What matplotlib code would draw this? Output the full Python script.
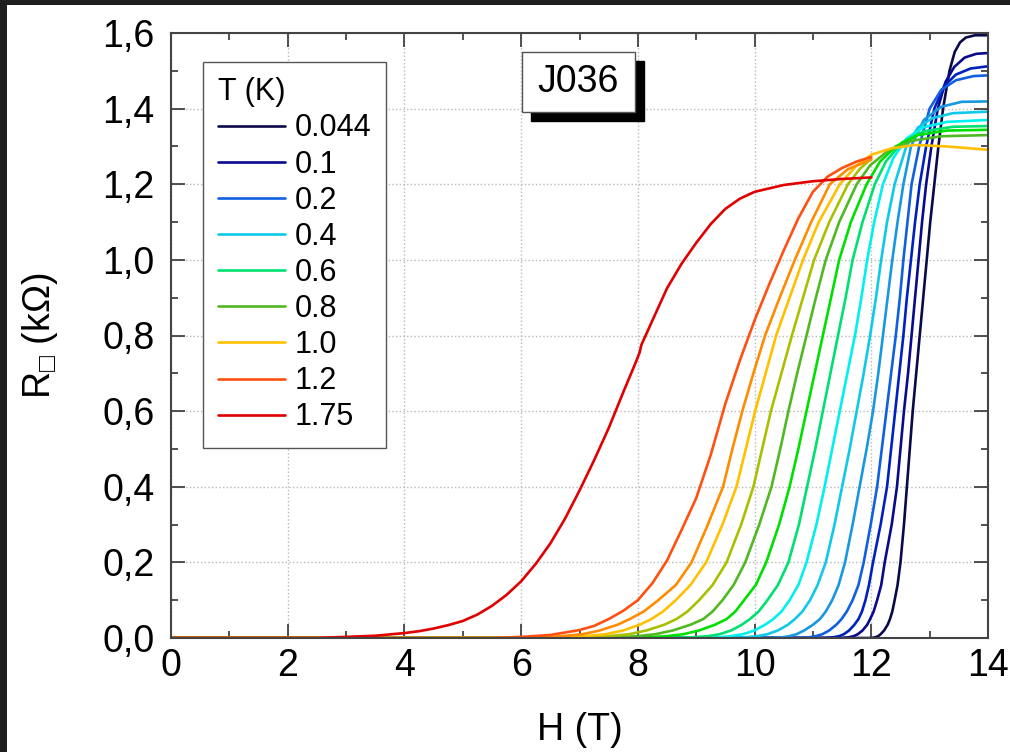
import numpy as np
import matplotlib
matplotlib.use("Agg")
import matplotlib.pyplot as plt
from matplotlib.patches import Rectangle

plt.rcParams['font.family'] = ['Liberation Sans', 'DejaVu Sans']
plt.rcParams['mathtext.fontset'] = 'custom'
plt.rcParams['mathtext.rm'] = 'Liberation Sans'
plt.rcParams['mathtext.it'] = 'Liberation Sans'
plt.rcParams['mathtext.fallback'] = 'stixsans'

# sheet resistance curves R(H), one pair per temperature
h_0044 = [0, 12.0, 12.07, 12.12, 12.16, 12.22, 12.28, 12.32, 12.36, 12.4, 12.45, 12.5, 12.56, 12.61, 12.66, 12.71,
          12.77, 12.83, 12.89, 12.95, 13.01, 13.08, 13.15, 13.23, 13.34, 13.43, 13.52, 13.62, 13.78, 14.0]
r_0044 = [0, 0, 0.002, 0.005, 0.01, 0.02, 0.035, 0.05, 0.07, 0.1, 0.14, 0.2, 0.3, 0.4, 0.5, 0.6,
          0.7, 0.8, 0.9, 1.0, 1.1, 1.2, 1.3, 1.4, 1.5, 1.55, 1.575, 1.588, 1.594, 1.594]

h_01 = [0, 11.5, 11.62, 11.7, 11.77, 11.85, 11.93, 11.98, 12.04, 12.1, 12.17, 12.23, 12.35, 12.44, 12.5, 12.56,
        12.63, 12.69, 12.75, 12.81, 12.87, 12.94, 13.03, 13.14, 13.27, 13.42, 13.6, 13.8, 14.0]
r_01 = [0, 0, 0.002, 0.005, 0.01, 0.02, 0.035, 0.05, 0.07, 0.1, 0.14, 0.2, 0.3, 0.4, 0.5, 0.6,
        0.7, 0.8, 0.9, 1.0, 1.1, 1.2, 1.3, 1.4, 1.47, 1.51, 1.535, 1.545, 1.547]

h_015 = [0, 11.2, 11.35, 11.45, 11.53, 11.62, 11.71, 11.78, 11.84, 11.9, 11.96, 12.03, 12.16, 12.27, 12.34, 12.41,
         12.48, 12.55, 12.61, 12.68, 12.75, 12.83, 12.94, 13.08, 13.25, 13.45, 13.7, 14.0]
r_015 = [0, 0, 0.002, 0.005, 0.01, 0.02, 0.035, 0.05, 0.07, 0.1, 0.14, 0.2, 0.3, 0.4, 0.5, 0.6,
         0.7, 0.8, 0.9, 1.0, 1.1, 1.2, 1.3, 1.4, 1.46, 1.49, 1.506, 1.512]

h_02 = [0, 10.8, 10.95, 11.05, 11.16, 11.28, 11.4, 11.49, 11.58, 11.68, 11.78, 11.87, 11.99, 12.1, 12.18, 12.26,
        12.34, 12.42, 12.49, 12.55, 12.62, 12.69, 12.82, 13.0, 13.2, 13.45, 13.75, 14.0]
r_02 = [0, 0, 0.002, 0.005, 0.01, 0.02, 0.035, 0.05, 0.07, 0.1, 0.14, 0.2, 0.3, 0.4, 0.5, 0.6,
        0.7, 0.8, 0.9, 1.0, 1.1, 1.2, 1.3, 1.4, 1.45, 1.475, 1.486, 1.488]

h_03 = [0, 10.3, 10.48, 10.6, 10.72, 10.85, 11.0, 11.12, 11.22, 11.33, 11.44, 11.55, 11.68, 11.8, 11.92, 12.03,
        12.12, 12.2, 12.28, 12.36, 12.45, 12.55, 12.68, 12.9, 13.2, 13.55, 14.0]
r_03 = [0, 0, 0.002, 0.005, 0.01, 0.02, 0.035, 0.05, 0.07, 0.1, 0.14, 0.2, 0.3, 0.4, 0.5, 0.6,
        0.7, 0.8, 0.9, 1.0, 1.1, 1.2, 1.3, 1.37, 1.405, 1.418, 1.419]

h_04 = [0, 9.6, 9.85, 10.05, 10.22, 10.4, 10.57, 10.69, 10.82, 10.95, 11.08, 11.22, 11.37, 11.5, 11.63, 11.75,
        11.87, 11.98, 12.08, 12.17, 12.27, 12.4, 12.6, 12.8, 13.05, 13.4, 14.0]
r_04 = [0, 0, 0.002, 0.005, 0.01, 0.02, 0.035, 0.05, 0.07, 0.1, 0.14, 0.2, 0.3, 0.4, 0.5, 0.6,
        0.7, 0.8, 0.9, 1.0, 1.1, 1.2, 1.3, 1.35, 1.375, 1.388, 1.392]

h_05 = [0, 9.1, 9.4, 9.6, 9.8, 10.0, 10.18, 10.32, 10.46, 10.6, 10.75, 10.89, 11.06, 11.2, 11.33, 11.46,
        11.59, 11.72, 11.83, 11.93, 12.05, 12.2, 12.38, 12.6, 12.88, 13.3, 14.0]
r_05 = [0, 0, 0.002, 0.005, 0.01, 0.02, 0.035, 0.05, 0.07, 0.1, 0.14, 0.2, 0.3, 0.4, 0.5, 0.6,
        0.7, 0.8, 0.9, 1.0, 1.1, 1.2, 1.27, 1.32, 1.35, 1.365, 1.37]

h_06 = [0, 8.6, 8.95, 9.2, 9.4, 9.6, 9.78, 9.92, 10.07, 10.22, 10.4, 10.58, 10.76, 10.9, 11.04, 11.17,
        11.3, 11.43, 11.56, 11.68, 11.85, 12.06, 12.25, 12.52, 12.9, 13.4, 14.0]
r_06 = [0, 0, 0.002, 0.005, 0.01, 0.02, 0.035, 0.05, 0.07, 0.1, 0.14, 0.2, 0.3, 0.4, 0.5, 0.6,
        0.7, 0.8, 0.9, 1.0, 1.1, 1.2, 1.26, 1.31, 1.34, 1.352, 1.354]

h_07 = [0, 7.8, 8.2, 8.5, 8.78, 9.05, 9.32, 9.52, 9.67, 9.82, 10.02, 10.2, 10.42, 10.6, 10.75, 10.89,
        11.03, 11.17, 11.31, 11.45, 11.65, 11.92, 12.15, 12.42, 12.8, 13.3, 14.0]
r_07 = [0, 0, 0.002, 0.005, 0.01, 0.02, 0.035, 0.05, 0.07, 0.1, 0.14, 0.2, 0.3, 0.4, 0.5, 0.6,
        0.7, 0.8, 0.9, 1.0, 1.1, 1.2, 1.26, 1.3, 1.33, 1.342, 1.344]

h_08 = [0, 7.3, 7.7, 8.0, 8.3, 8.6, 8.9, 9.12, 9.28, 9.45, 9.64, 9.84, 10.08, 10.29, 10.44, 10.58,
        10.73, 10.89, 11.05, 11.22, 11.45, 11.75, 11.98, 12.3, 12.7, 13.2, 14.0]
r_08 = [0, 0, 0.002, 0.005, 0.01, 0.02, 0.035, 0.05, 0.07, 0.1, 0.14, 0.2, 0.3, 0.4, 0.5, 0.6,
        0.7, 0.8, 0.9, 1.0, 1.1, 1.2, 1.25, 1.29, 1.315, 1.327, 1.33]

h_09 = [0, 6.8, 7.2, 7.5, 7.85, 8.15, 8.45, 8.66, 8.85, 9.05, 9.28, 9.52, 9.77, 9.98, 10.13, 10.28,
        10.46, 10.64, 10.83, 11.02, 11.28, 11.6, 11.8, 12.0]
r_09 = [0, 0, 0.002, 0.005, 0.01, 0.02, 0.035, 0.05, 0.07, 0.1, 0.14, 0.2, 0.3, 0.4, 0.5, 0.6,
        0.7, 0.8, 0.9, 1.0, 1.1, 1.2, 1.24, 1.268]

h_10 = [0, 6.4, 6.8, 7.1, 7.45, 7.75, 8.03, 8.23, 8.43, 8.65, 8.9, 9.17, 9.45, 9.69, 9.85, 10.01,
        10.19, 10.37, 10.6, 10.83, 11.1, 11.46, 11.75, 12.0, 12.35, 12.75, 13.3, 14.0]
r_10 = [0, 0, 0.002, 0.005, 0.01, 0.02, 0.035, 0.05, 0.07, 0.1, 0.14, 0.2, 0.3, 0.4, 0.5, 0.6,
        0.7, 0.8, 0.9, 1.0, 1.1, 1.2, 1.25, 1.278, 1.295, 1.304, 1.3, 1.291]

h_11 = [0, 6.0, 6.4, 6.7, 7.05, 7.35, 7.65, 7.86, 8.1, 8.35, 8.65, 8.92, 9.2, 9.46, 9.62, 9.79,
        9.98, 10.18, 10.43, 10.69, 10.97, 11.29, 11.6, 12.0]
r_11 = [0, 0, 0.002, 0.005, 0.01, 0.02, 0.035, 0.05, 0.07, 0.1, 0.14, 0.2, 0.3, 0.4, 0.5, 0.6,
        0.7, 0.8, 0.9, 1.0, 1.1, 1.2, 1.24, 1.265]

h_12 = [0, 5.5, 6.0, 6.5, 7.0, 7.25, 7.5, 7.75, 8.0, 8.25, 8.5, 8.75, 9.0, 9.25, 9.5, 9.75,
        10.0, 10.25, 10.5, 10.75, 11.0, 11.25, 11.5, 11.75, 12.0]
r_12 = [0, 0, 0.003, 0.008, 0.021, 0.032, 0.05, 0.072, 0.1, 0.145, 0.205, 0.286, 0.37, 0.485, 0.62, 0.735,
        0.84, 0.935, 1.025, 1.11, 1.18, 1.22, 1.243, 1.26, 1.272]

h_175 = [0, 2.5, 3.0, 3.5, 4.0, 4.25, 4.5, 4.75, 5.0, 5.25, 5.5, 5.75, 6.0, 6.25, 6.5, 6.75, 7.0, 7.25,
         7.5, 7.75, 7.98, 8.03, 8.06, 8.25, 8.5, 8.75, 9.0, 9.25, 9.5, 9.75, 10.0, 10.5, 11.0, 11.5, 12.0]
r_175 = [0, 0, 0.003, 0.006, 0.013, 0.018, 0.025, 0.034, 0.045, 0.062, 0.085, 0.114, 0.15, 0.196, 0.25, 0.315, 0.39, 0.47,
         0.555, 0.65, 0.735, 0.755, 0.775, 0.84, 0.925, 0.99, 1.045, 1.095, 1.135, 1.162, 1.18, 1.198, 1.208, 1.214, 1.218]

temps = ['0.044', '0.1', '0.15', '0.2', '0.3', '0.4', '0.5', '0.6', '0.7', '0.8', '0.9', '1.0', '1.1', '1.2', '1.75']
colors = ['#0a0a4a', '#0a0a8c', '#0020c0', '#1060e0', '#1898e0', '#10c8e8', '#00f0f0', '#00e070',
          '#00e000', '#50b820', '#a8c000', '#ffc000', '#ff8c00', '#ff5010', '#e00000']
in_legend = ['0.044', '0.1', '0.2', '0.4', '0.6', '0.8', '1.0', '1.2', '1.75']
curves = [(h_0044, r_0044), (h_01, r_01), (h_015, r_015), (h_02, r_02), (h_03, r_03),
          (h_04, r_04), (h_05, r_05), (h_06, r_06), (h_07, r_07), (h_08, r_08),
          (h_09, r_09), (h_10, r_10), (h_11, r_11), (h_12, r_12), (h_175, r_175)]

fig = plt.figure(figsize=(10.10, 7.52), dpi=100)
ax = fig.add_axes([171 / 1010, 1 - 638 / 752, 817 / 1010, 605 / 752])

for t, c, (h, r) in zip(temps, colors, curves):
    ax.plot(h, r, color=c, lw=1.9, solid_joinstyle='round', solid_capstyle='round',
            label=t if t in in_legend else '_nolegend_')

ax.set_xlim(0, 14)
ax.set_ylim(0, 1.6)
ax.set_xticks(np.arange(0, 15, 2))
ax.set_xticks(np.arange(1, 14, 2), minor=True)
ax.set_yticks(np.arange(0, 1.61, 0.2))
ax.set_yticks(np.arange(0.1, 1.6, 0.2), minor=True)
ax.set_yticklabels(['{:.1f}'.format(v).replace('.', ',') for v in np.arange(0, 1.61, 0.2)])
ax.grid(True, which='major', linestyle=':', color='#b8b8b8', lw=1.0)
ax.tick_params(which='both', direction='in', top=True, right=True, width=1.2, color='#333333')
ax.tick_params(which='major', length=10, labelsize=27)
ax.tick_params(which='minor', length=5)
ax.tick_params(axis='x', pad=7)
ax.tick_params(axis='y', pad=12)
for s in ax.spines.values():
    s.set_color('#444444')
    s.set_linewidth(1.5)

ax.set_xlabel('H (T)', fontsize=27, labelpad=20)
ax.set_ylabel('R$_{\u25a1}$ (k\u03a9)', fontsize=27, labelpad=30)

leg = ax.legend(loc='upper left', bbox_to_anchor=(0.039, 0.952), borderaxespad=0,
                title='T (K)', fontsize=22, title_fontsize=22, fancybox=False,
                edgecolor='#555555', framealpha=1, handlelength=2.2, handletextpad=0.3,
                labelspacing=0.2, borderpad=0.5, alignment='left')
leg.get_frame().set_linewidth(1.0)

# sample name box with drop shadow
bx0, bx1, by0, by1 = 0.4296, 0.568, 0.869, 0.969
ax.add_patch(Rectangle((bx0 + 0.011, by0 - 0.015), bx1 - bx0, by1 - by0, transform=ax.transAxes,
                       facecolor='black', edgecolor='black', zorder=5))
ax.add_patch(Rectangle((bx0, by0), bx1 - bx0, by1 - by0, transform=ax.transAxes,
                       facecolor='white', edgecolor='#555555', lw=1.0, zorder=6))
ax.text((bx0 + bx1) / 2, (by0 + by1) / 2, 'J036', transform=ax.transAxes, fontsize=27,
        ha='center', va='center', zorder=7)

# dark border strips of the screenshot
fig.patches.append(Rectangle((0, 1 - 5 / 752), 1, 5 / 752, transform=fig.transFigure,
                             facecolor='#1e1e1e', edgecolor='none'))
fig.patches.append(Rectangle((0, 0), 7 / 1010, 1, transform=fig.transFigure,
                             facecolor='#1e1e1e', edgecolor='none'))

fig.savefig('out.png', dpi=100)
